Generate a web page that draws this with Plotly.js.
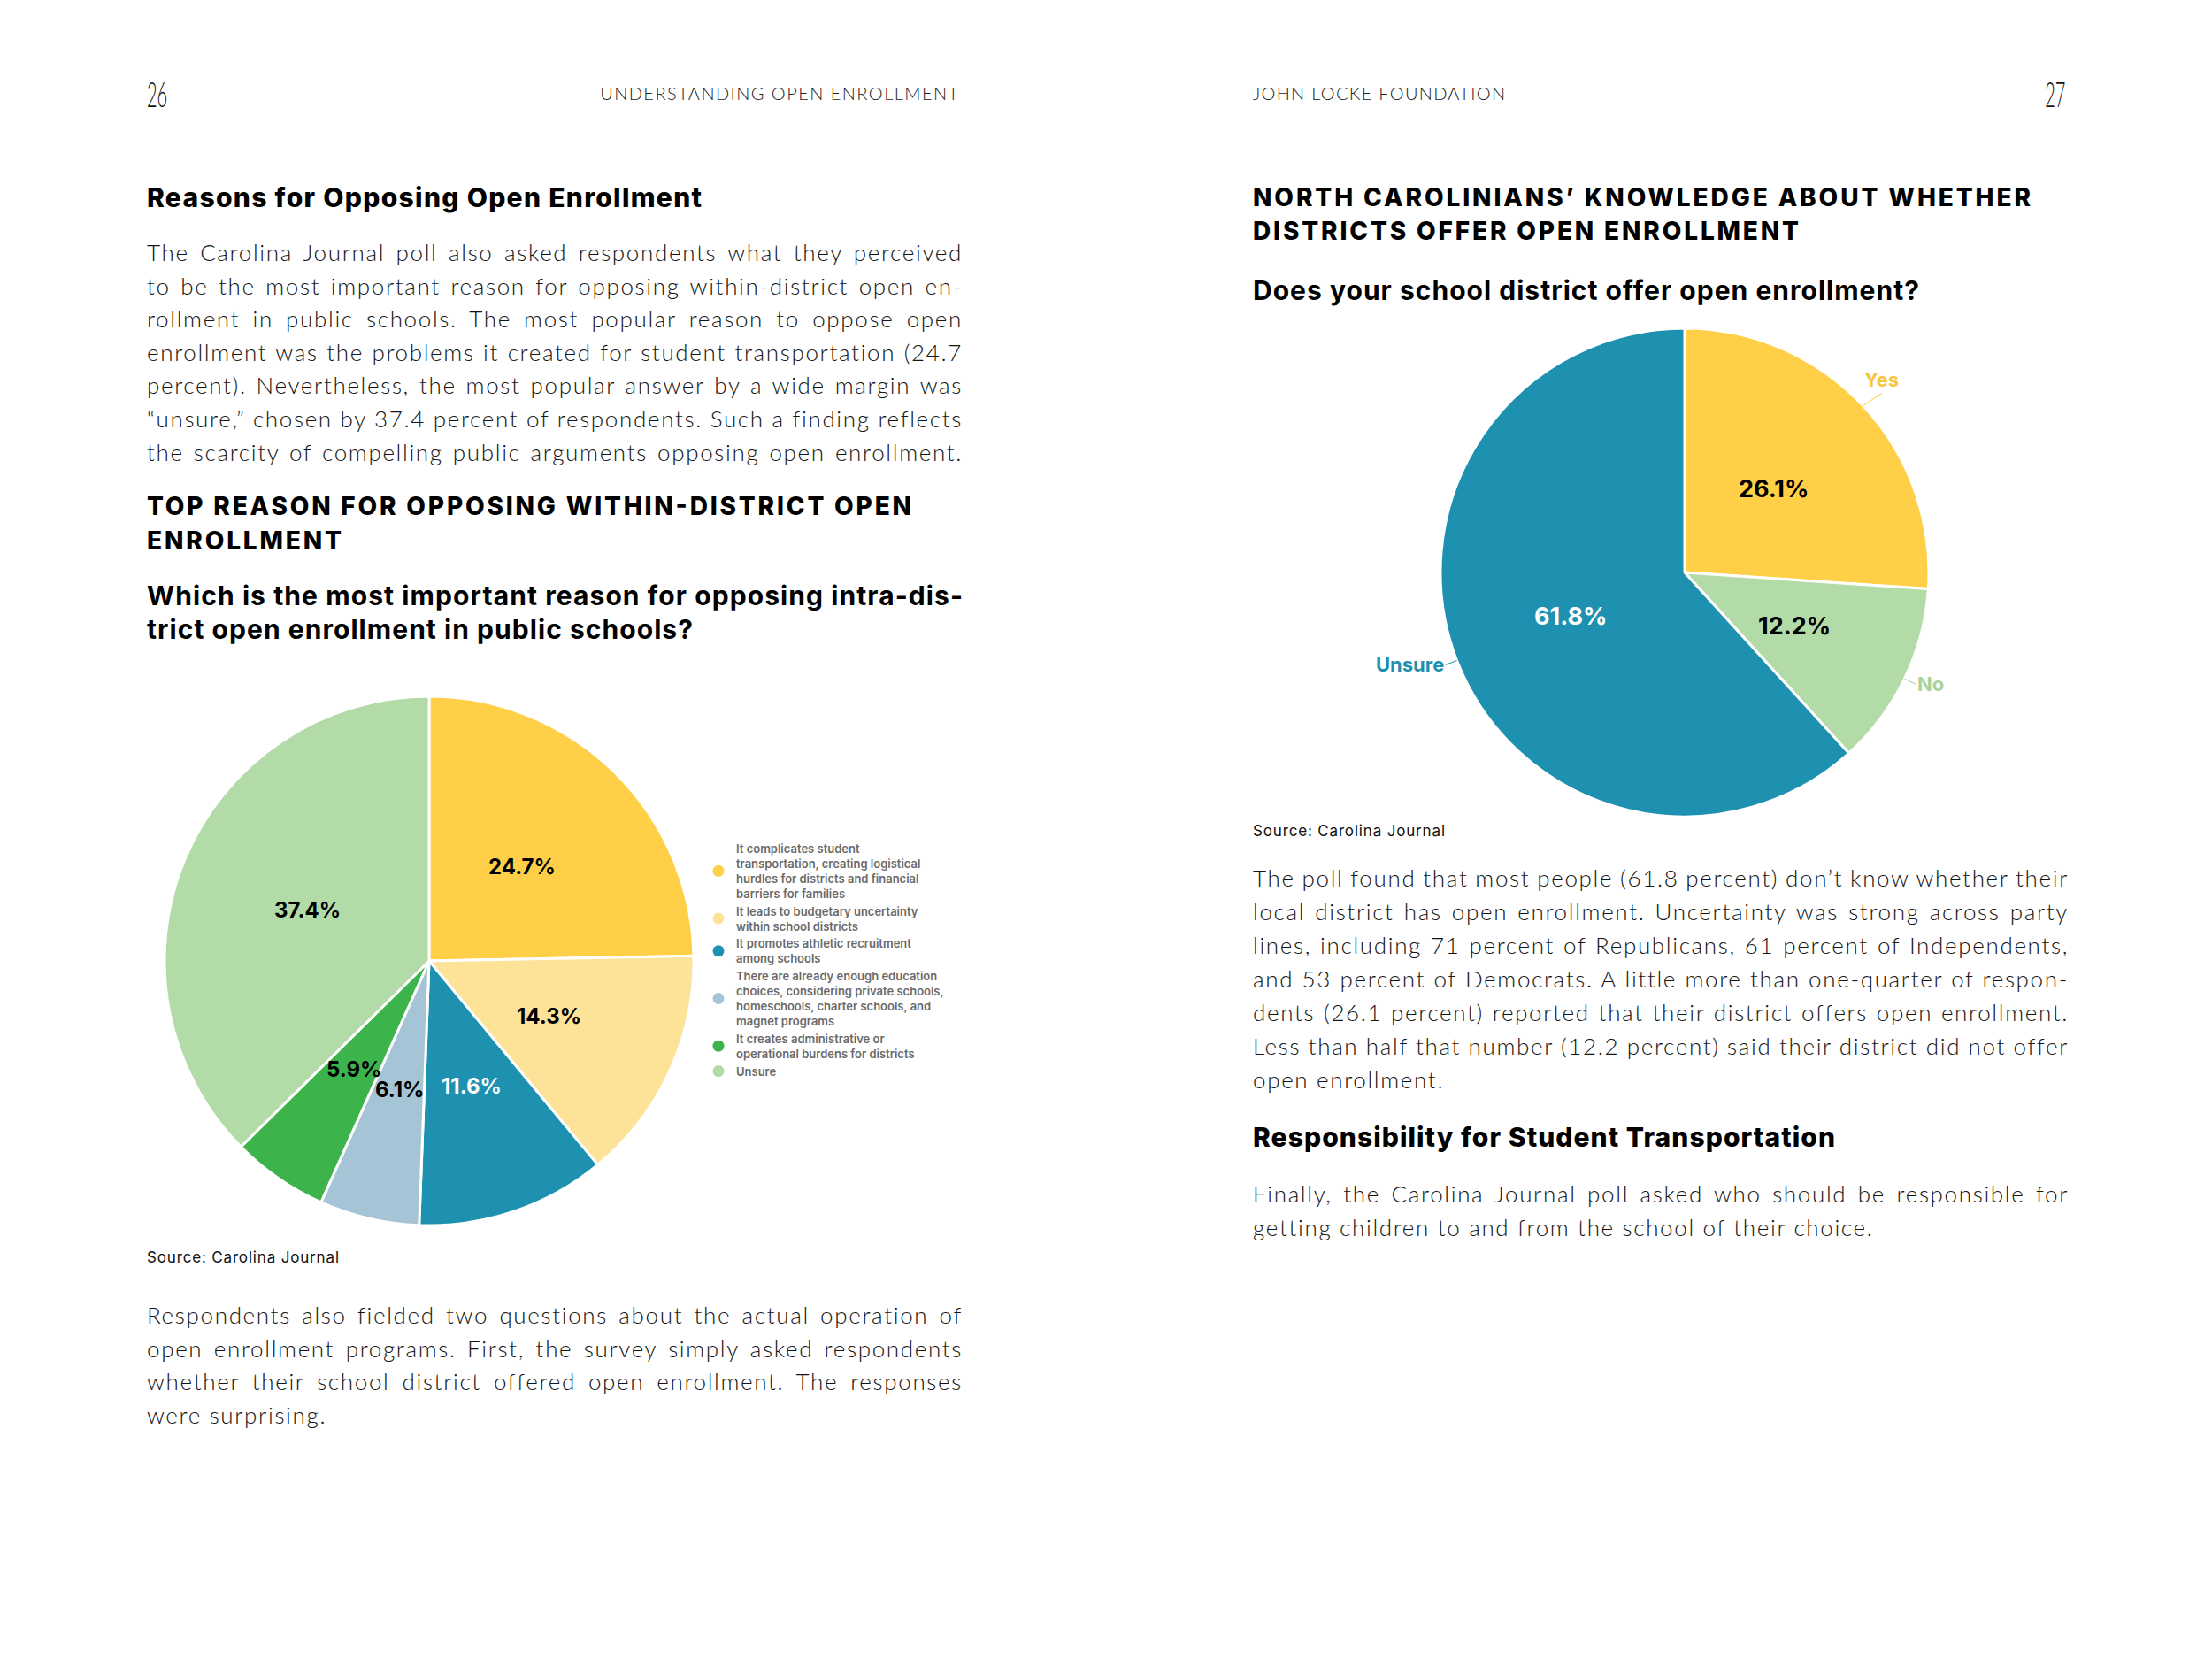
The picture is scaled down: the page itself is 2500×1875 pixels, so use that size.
<!DOCTYPE html>
<html>
<head>
<meta charset="utf-8">
<script src="https://cdn.plot.ly/plotly-3.0.1.min.js"></script>
<style>
html,body{margin:0;padding:0;background:#fff;}
#chart{width:2500px;height:1875px;}
</style>
</head>
<body>
<div id="chart"></div>
<script>
// ---------- DATA ----------
const reasonLabels = [
  "It complicates student<br>transportation, creating logistical<br>hurdles for districts and financial<br>barriers for families",
  "It leads to budgetary uncertainty<br>within school districts",
  "It promotes athletic recruitment<br>among schools",
  "There are already enough education<br>choices, considering private schools,<br>homeschools, charter schools, and<br>magnet programs",
  "It creates administrative or<br>operational burdens for districts",
  "Unsure"
];
const reasonValues = [24.7, 14.3, 11.6, 6.1, 5.9, 37.4];
const reasonColors = ["#FFCF47", "#FDE398", "#1E91B0", "#A5C5D7", "#3CB44B", "#B2DBA8"];
const reasonTextColors = ["#000", "#000", "#fff", "#000", "#000", "#000"];

const districtLabels = ["Yes", "No", "Unsure"];
const districtValues = [26.1, 12.2, 61.8];
const districtColors = ["#FFCF47", "#B2DBA8", "#1E91B0"];
const districtTextColors = ["#000", "#000", "#fff"];
const districtNameColors = ["#F7C63E", "#A6D49B", "#1E8FAE"];

const leftPara1 = [
  "The Carolina Journal poll also asked respondents what they perceived",
  "to be the most important reason for opposing within-district open en-",
  "rollment in public schools. The most popular reason to oppose open",
  "enrollment was the problems it created for student transportation (24.7",
  "percent). Nevertheless, the most popular answer by a wide margin was",
  "\u201Cunsure,\u201D chosen by 37.4 percent of respondents. Such a finding reflects",
  "the scarcity of compelling public arguments opposing open enrollment."
];
const leftPara2 = [
  "Respondents also fielded two questions about the actual operation of",
  "open enrollment programs. First, the survey simply asked respondents",
  "whether their school district offered open enrollment. The responses",
  "were surprising."
];
const rightPara1 = [
  "The poll found that most people (61.8 percent) don\u2019t know whether their",
  "local district has open enrollment. Uncertainty was strong across party",
  "lines, including 71 percent of Republicans, 61 percent of Independents,",
  "and 53 percent of Democrats. A little more than one-quarter of respon-",
  "dents (26.1 percent) reported that their district offers open enrollment.",
  "Less than half that number (12.2 percent) said their district did not offer",
  "open enrollment."
];
const rightPara2 = [
  "Finally, the Carolina Journal poll asked who should be responsible for",
  "getting children to and from the school of their choice."
];

// ---------- LAYOUT HELPERS ----------
const W = 2500, H = 1875;
const FAM = 'Inter, "Open Sans", "Noto Sans", sans-serif';
const LIGHT = 'Lato, Inter, "Open Sans", sans-serif';
const fBody = {family: LIGHT, size: 26, color: "#141414", weight: 300};
const fHead = {family: FAM, size: 30, color: "#000", weight: 800};
const fCaps = {family: FAM, size: 28, color: "#000", weight: 800};
const fQ = {family: FAM, size: 30, color: "#000", weight: 700};
const fRun = {family: LIGHT, size: 20, color: "#222", weight: 300};
const fPage = {family: LIGHT, size: 40, color: "#111", weight: 300};
const fSrc = {family: FAM, size: 17, color: "#111", weight: 400};

const annotations = [];
const extras = {};
let calIdx = -1;
function txt(text, x, y, font, opts, extra) {
  annotations.push(Object.assign({
    text: text, x: x / W, y: 1 - y / H, xref: "paper", yref: "paper",
    xanchor: "left", yanchor: "middle", showarrow: false, align: "left", font: font
  }, opts || {}));
  const idx = annotations.length - 1;
  if (extra) extras[idx] = extra;
  return idx;
}
function para(lines, x, y0, dy, width, justifyCount) {
  return lines.map((l, i) => txt(l, x, y0 + i * dy, fBody, null,
    {body: true, jw: i < justifyCount ? width : 0}));
}

// running heads
txt("26", 164, 106, fPage, null, {sx: 0.5, origin: "left"});
txt("UNDERSTANDING OPEN ENROLLMENT", 1086, 105, fRun, {xanchor: "right", align: "right"}, {tw: 405});
txt("JOHN LOCKE FOUNDATION", 1414, 105, fRun, null, {tw: 285});
txt("27", 2336, 106, fPage, {xanchor: "right", align: "right"}, {sx: 0.5, origin: "right"});

// left page
txt("Reasons for Opposing Open Enrollment", 164, 223, fHead, null, {tw: 627});
para(leftPara1, 164, 285, 37.6, 922, 7);
txt("TOP REASON FOR OPPOSING WITHIN-DISTRICT OPEN", 164, 572, fCaps, null, {tw: 864});
txt("ENROLLMENT", 164, 611, fCaps, null, {tw: 220});
txt("Which is the most important reason for opposing intra-dis-", 164, 673, fQ, null, {tw: 922});
txt("trict open enrollment in public schools?", 164, 711, fQ, null, {tw: 617});
txt("Source: Carolina Journal", 164, 1421, fSrc, null, {tw: 217});
para(leftPara2, 164, 1486, 37.6, 922, 3);

// right page
txt("NORTH CAROLINIANS\u2019 KNOWLEDGE ABOUT WHETHER", 1414, 223, fCaps, null, {tw: 879});
txt("DISTRICTS OFFER OPEN ENROLLMENT", 1414, 261, fCaps, null, {tw: 617});
txt("Does your school district offer open enrollment?", 1414, 328, fQ, null, {tw: 753});
txt("Source: Carolina Journal", 1414, 939, fSrc, null, {tw: 217});
para(rightPara1, 1414, 992, 38, 922, 6);
txt("Responsibility for Student Transportation", 1414, 1285, fHead, null, {tw: 658});
const p4 = para(rightPara2, 1414, 1349, 38, 922, 1);
calIdx = p4[1]; // "getting children..." spans ~701px in the reference

// ---------- PIES ----------
const leftDomain = {x: [186 / W, 784 / W], y: [1 - 1385 / H, 1 - 787 / H]};
const rightDomain = {x: [1628 / W, 2180 / W], y: [1 - 923 / H, 1 - 371 / H]};

function geom(d) {
  const x0 = d.x[0] * W, x1 = d.x[1] * W, y0 = (1 - d.y[1]) * H, y1 = (1 - d.y[0]) * H;
  return {cx: (x0 + x1) / 2, cy: (y0 + y1) / 2, r: Math.min(x1 - x0, y1 - y0) / 2};
}
function midAngles(vals) {
  const tot = vals.reduce((a, b) => a + b, 0);
  let c = 0;
  return vals.map(v => { const m = (c + v / 2) / tot * 2 * Math.PI; c += v; return m; });
}
function pctLabels(vals, dom, colors, size) {
  const g = geom(dom);
  midAngles(vals).forEach((a, i) => {
    txt(vals[i].toFixed(1) + "%", g.cx + 0.5 * g.r * Math.sin(a), g.cy - 0.5 * g.r * Math.cos(a),
        {family: FAM, size: size, color: colors[i], weight: 700}, {xanchor: "center", align: "center"});
  });
}
pctLabels(reasonValues, leftDomain, reasonTextColors, 24);
pctLabels(districtValues, rightDomain, districtTextColors, 27);

// outside names with leader lines (right pie)
(function () {
  const g = geom(rightDomain);
  midAngles(districtValues).forEach((a, i) => {
    const s = Math.sin(a), c = Math.cos(a);
    const tipX = g.cx + g.r * s, tipY = g.cy - g.r * c;
    const side = Math.abs(s) > 0.85;
    const k = side ? 1.05 : 1.075;
    const tailX = g.cx + k * g.r * s + (side ? 0 : 6), tailY = g.cy - k * g.r * c;
    annotations.push({
      text: districtLabels[i], xref: "paper", yref: "paper",
      x: tipX / W, y: 1 - tipY / H, ax: tailX - tipX, ay: tailY - tipY,
      xanchor: side ? (s > 0 ? "left" : "right") : "center",
      yanchor: side ? "middle" : (c > 0 ? "bottom" : "top"),
      showarrow: true, arrowhead: 0, arrowwidth: 1, arrowcolor: districtNameColors[i], standoff: 0,
      font: {family: FAM, size: 22, color: districtNameColors[i], weight: 700}
    });
  });
})();

const data = [
  {
    type: "pie", labels: reasonLabels, values: reasonValues, sort: false,
    direction: "clockwise", rotation: 0, textinfo: "none", hoverinfo: "label+percent",
    marker: {colors: reasonColors, line: {color: "#ffffff", width: 3}},
    domain: leftDomain, showlegend: true
  },
  {
    type: "pie", labels: districtLabels, values: districtValues, sort: false,
    direction: "clockwise", rotation: 0, textinfo: "none", hoverinfo: "label+percent",
    marker: {colors: districtColors, line: {color: "#ffffff", width: 3}},
    domain: rightDomain, showlegend: false
  }
];

const layout = {
  width: W, height: H,
  margin: {l: 0, r: 0, t: 0, b: 0},
  paper_bgcolor: "#ffffff", plot_bgcolor: "#ffffff",
  showlegend: true,
  legend: {
    x: 792 / W, y: 1 - 944 / H, xanchor: "left", yanchor: "top",
    font: {family: FAM, size: 13, color: "#6a6a6a", weight: 600},
    bgcolor: "rgba(0,0,0,0)", tracegroupgap: 0
  },
  annotations: annotations
};

function annEl(gd, idx) {
  return gd.querySelector('.annotation[data-index="' + idx + '"] text.annotation-text');
}

Plotly.newPlot("chart", data, layout, {staticPlot: true, displayModeBar: false}).then(gd => {
  // calibrate body letter spacing on a known reference line
  let bodyLS = 0;
  const cal = annEl(gd, calIdx);
  if (cal) {
    const w0 = cal.getBBox().width;
    bodyLS = (701 - w0) / cal.textContent.length;
  }
  Object.keys(extras).forEach(k => {
    const e = extras[k];
    const el = annEl(gd, k);
    if (!el) return;
    if (e.body) el.style.letterSpacing = bodyLS + "px";
    if (e.jw) {
      const len = el.getBBox().width;
      const spaces = (el.textContent.match(/ /g) || []).length;
      if (spaces > 0) el.style.wordSpacing = ((e.jw - len) / spaces) + "px";
    }
    if (e.tw) {
      el.setAttribute("textLength", e.tw);
      el.setAttribute("lengthAdjust", "spacing");
    }
    if (e.sx) {
      el.style.transformBox = "fill-box";
      el.style.transformOrigin = e.origin + " center";
      el.style.transform = "scaleX(" + e.sx + ")";
    }
  });
  // round legend symbols like the reference
  gd.querySelectorAll(".legend .legendpoints path").forEach(p => {
    p.setAttribute("d", "M6.5,0A6.5,6.5 0 1,1 -6.5,0A6.5,6.5 0 1,1 6.5,0Z");
    p.style.strokeWidth = "0";
  });
});
</script>
</body>
</html>
